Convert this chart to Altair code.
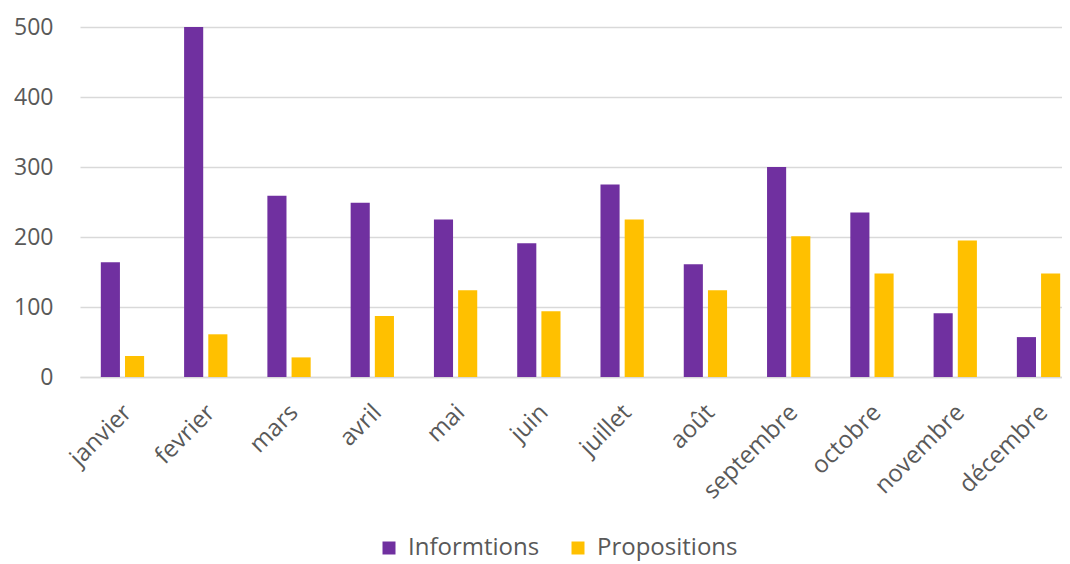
import altair as alt
import pandas as pd

months = ["janvier", "fevrier", "mars", "avril", "mai", "juin", "juillet",
          "août", "septembre", "octobre", "novembre", "décembre"]
informations = [164, 500, 259, 249, 225, 191, 275, 161, 300, 235, 91, 57]
propositions = [30, 61, 28, 87, 124, 94, 225, 124, 201, 148, 195, 148]
series = ["Informtions", "Propositions"]
colors = ["#7030A0", "#FFC000"]

rows = []
for m, a, b in zip(months, informations, propositions):
    rows.append({"mois": m, "serie": series[0], "valeur": a})
    rows.append({"mois": m, "serie": series[1], "valeur": b})
df = pd.DataFrame(rows)

font = "Open Sans"
chart = alt.Chart(df).mark_bar().encode(
    x=alt.X("mois:N", sort=months, title=None,
            scale=alt.Scale(paddingInner=0.48, paddingOuter=0.25, range=[0, 1001],
                            round=False),
            axis=alt.Axis(labelAngle=-45, labelAlign="right", labelBaseline="top",
                          labelFontSize=24, labelColor="#595959", labelFont=font,
                          ticks=False, domainColor="#d9d9d9", domainWidth=1.5,
                          labelPadding=23, labelOffset=-3)),
    xOffset=alt.XOffset("serie:N", sort=series,
                        scale=alt.Scale(paddingInner=0.21, paddingOuter=0)),
    y=alt.Y("valeur:Q", title=None,
            scale=alt.Scale(domain=[0, 500], nice=False),
            axis=alt.Axis(values=[0, 100, 200, 300, 400, 500], labelFontSize=23,
                          labelColor="#595959", labelFont=font, ticks=False,
                          domain=False, gridColor="#d9d9d9", gridWidth=1.5,
                          labelPadding=27)),
    color=alt.Color("serie:N", sort=series,
                    scale=alt.Scale(domain=series, range=colors),
                    legend=alt.Legend(title=None, orient="none", direction="horizontal",
                                      legendX=297, legendY=509,
                                      symbolType="square", symbolSize=169,
                                      symbolStrokeWidth=0,
                                      labelFontSize=24, labelFont=font,
                                      labelColor="#595959", columnPadding=26,
                                      labelOffset=7)),
).properties(
    width=982, height=350,
    autosize=alt.AutoSizeParams(type="none"),
    padding={"left": 72, "top": 19, "right": 0, "bottom": 187},
).configure_view(stroke=None)

chart.save("out.html", embed_options={"renderer": "svg", "actions": False})
